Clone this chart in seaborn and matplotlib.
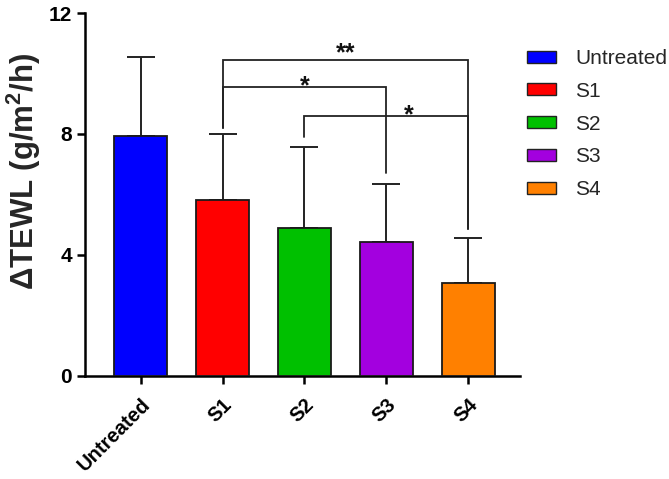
import matplotlib
matplotlib.use("Agg")
import matplotlib.pyplot as plt
import seaborn as sns
import pandas as pd
from matplotlib.patches import Patch

groups = ["Untreated", "S1", "S2", "S3", "S4"]
means = [7.94, 5.82, 4.90, 4.44, 3.06]
sds = [2.60, 2.17, 2.68, 1.92, 1.49]
colors = ["#0000FF", "#FF0000", "#00C000", "#A300DF", "#FF8000"]
yticks = [0, 4, 8, 12]
# significance brackets: (left group, right group, bracket height, label)
sig_pairs = [(1, 4, 10.45, "**"), (1, 3, 9.54, "*"), (2, 4, 8.58, "*")]
# lower end of each bracket leg, per pair (left leg, right leg)
sig_legs = [(8.2, 4.85), (8.2, 6.71), (7.9, 4.85)]
# label placement along x (group units) and vertical offset (data units)
sig_label_x = [2.5, 2.0, 3.28]
sig_label_dy = [0.0, -0.18, -0.18]

sns.set_theme(style="ticks")
plt.rcParams["font.family"] = ["Liberation Sans", "DejaVu Sans"]
plt.rcParams["mathtext.fontset"] = "custom"
plt.rcParams["mathtext.rm"] = "Liberation Sans"
plt.rcParams["mathtext.bf"] = "Liberation Sans:bold"

df = pd.DataFrame({"group": groups, "value": means})

fig = plt.figure(figsize=(6.69, 4.79), dpi=100)
ax = fig.add_axes([0.127, 0.2157, 0.65, 0.757])

sns.barplot(data=df, x="group", y="value", hue="group", palette=colors,
            order=groups, hue_order=groups, width=0.65, edgecolor="#1a1a1a",
            linewidth=1.3, saturation=1, legend=False, ax=ax, zorder=3)

xs = list(range(len(groups)))
ax.errorbar(xs, means, yerr=[[0] * len(sds), sds], fmt="none", ecolor="#222222",
            elinewidth=1.4, capsize=10, capthick=1.4, zorder=2)

for (i, j, h, lab), (li, lj), lx, dy in zip(sig_pairs, sig_legs, sig_label_x, sig_label_dy):
    ax.plot([i, i, j, j], [li, h, h, lj], color="#222222", lw=1.3, zorder=4,
            solid_joinstyle="miter")
    ax.text(lx, h + dy, lab, ha="center", va="baseline", fontsize=18,
            fontweight="bold", color="#111111")

ax.set_ylim(0, 12)
ax.set_xlim(-0.68, 4.63)
ax.set_yticks(yticks)
ax.set_yticklabels([str(t) for t in yticks], fontsize=15, fontweight="bold")
ax.set_xticks(xs)
ax.set_xticklabels(groups, fontsize=14.5, fontweight="bold", rotation=45,
                   ha="right", rotation_mode="anchor")
ax.set_xlabel("")
ax.set_ylabel(r"ΔTEWL (g/m$^{\mathbf{2}}$/h)", fontsize=22.5, fontweight="bold")
ax.yaxis.set_label_coords(-0.097, 0.563)
for s in ["top", "right"]:
    ax.spines[s].set_visible(False)
for s in ["left", "bottom"]:
    ax.spines[s].set_linewidth(1.8)
    ax.spines[s].set_color("black")
ax.tick_params(axis="both", width=1.8, length=6, color="black", labelcolor="black")
ax.tick_params(axis="x", pad=8)

handles = [Patch(facecolor=c, edgecolor="#222222", linewidth=1.0) for c in colors]
fig.legend(handles, groups, loc="upper left", bbox_to_anchor=(527 / 669, 1 - 49 / 479),
           frameon=False, fontsize=15, borderpad=0, borderaxespad=0,
           handlelength=1.4, handleheight=0.5, handletextpad=0.91, labelspacing=0.66)

fig.savefig("out.png", dpi=100)
